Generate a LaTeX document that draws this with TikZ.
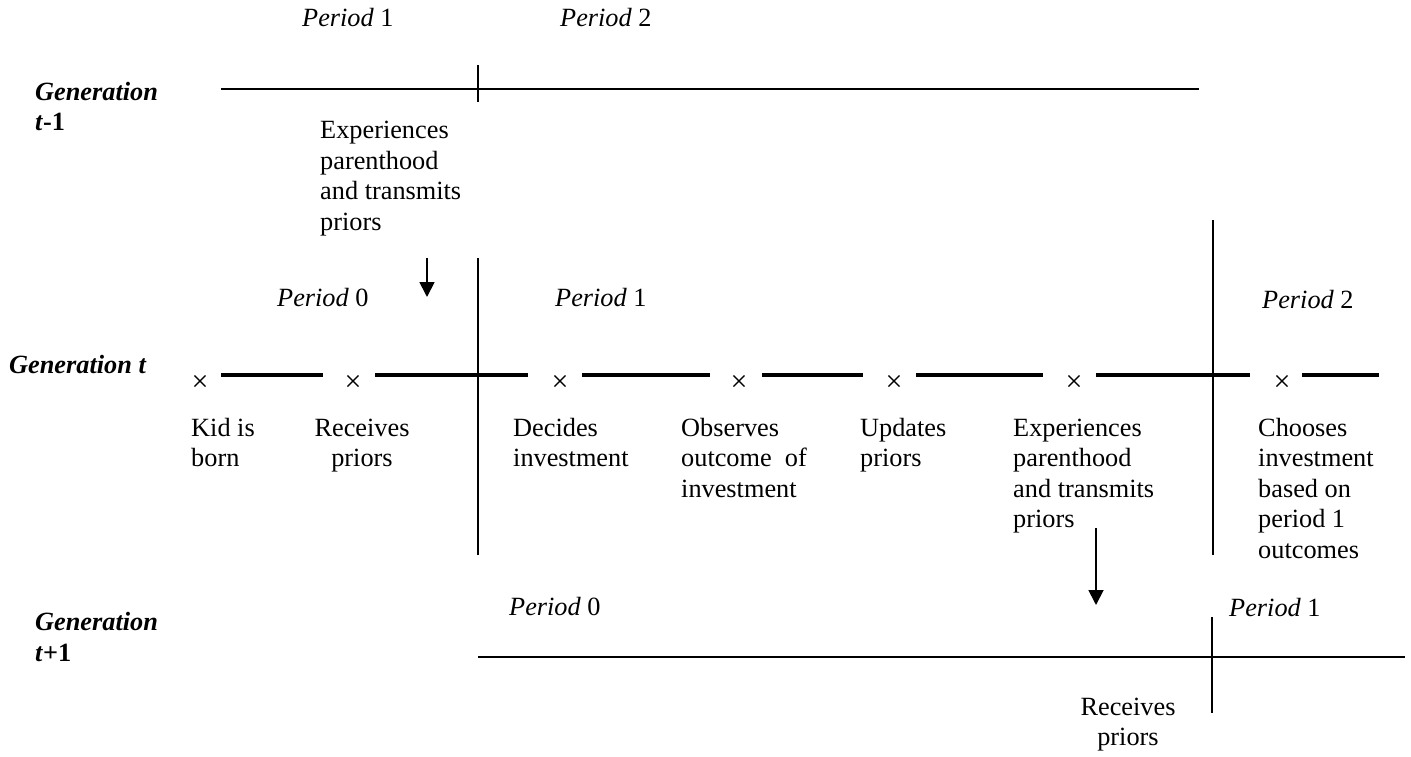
\documentclass[tikz,border=0pt]{standalone}
\usepackage{fontspec}
\setmainfont{Liberation Serif}
\usetikzlibrary{arrows.meta}
\begin{document}
\begin{tikzpicture}[x=1pt,y=-1pt,
  every node/.style={inner sep=0pt, font=\fontsize{26.3}{30.5}\selectfont},
  lbl/.style={anchor=base west, align=left},
  clbl/.style={anchor=base, align=center},
  gen/.style={anchor=base west, align=left, font=\fontsize{26.3}{30.5}\selectfont\bfseries\itshape},
  thinline/.style={line width=1.8pt},
  thickline/.style={line width=3.6pt},
  cross/.style={anchor=center, font=\fontsize{30}{30}\selectfont},
  arr/.style={line width=1.8pt,-{Triangle[length=15pt,width=15pt]}}]
\useasboundingbox (0,0) rectangle (1411,757);

% ---------- Generation t-1 ----------
\node[lbl] (p1top) at (302,27) {\textit{Period} 1};
\node[lbl] (p2top) at (560,27) {\textit{Period} 2};
\node[gen] (gtm1) at (35,131) {Generation\\\textit{t}\textup{-1}};
\coordinate (a1) at (221,89);
\coordinate (a2) at (1199,89);
\draw[thinline] (a1) -- (a2);
\coordinate (tk1) at (478,65);
\coordinate (tk2) at (478,102);
\draw[thinline] (tk1) -- (tk2);
\node[lbl] (exptop) at (320,230) {Experiences\\parenthood\\and transmits\\priors};
\coordinate (ar1s) at (427,258);
\coordinate (ar1e) at (427,297);
\draw[arr] (ar1s) -- (ar1e);

% ---------- Generation t ----------
\coordinate (v1a) at (478,258);
\coordinate (v1b) at (478,555);
\draw[thinline] (v1a) -- (v1b);
\coordinate (v2a) at (1213,220);
\coordinate (v2b) at (1213,555);
\draw[thinline] (v2a) -- (v2b);
\node[lbl] (p0t) at (277,306) {\textit{Period} 0};
\node[lbl] (p1t) at (555,306) {\textit{Period} 1};
\node[lbl] (p2t) at (1262,308) {\textit{Period} 2};
\node[gen] (gt) at (9,373) {Generation t};

\foreach \n/\xa/\xb in {s1/221/323, s2/375/528, s3/582/710, s4/762/863, s5/916/1043, s6/1096/1250, s7/1302/1379}{
  \coordinate (\n a) at (\xa,375);
  \coordinate (\n b) at (\xb,375);
  \draw[thickline] (\n a) -- (\n b);
}
\foreach \n/\x in {x1/200, x2/353, x3/560, x4/739, x5/894, x6/1074, x7/1282}{
  \node[cross] (\n) at (\x,383) {×};
}

\node[lbl] (kid) at (191,466.5) {Kid is\\born};
\node[clbl] (rec) at (362,466.5) {Receives\\priors};
\node[lbl] (dec) at (513,466.5) {Decides\\investment};
\node[lbl] (obs) at (681,497) {Observes\\outcome\ \ of\\investment};
\node[lbl] (upd) at (860,466.5) {Updates\\priors};
\node[lbl] (expt) at (1013,527.5) {Experiences\\parenthood\\and transmits\\priors};
\node[lbl] (cho) at (1258,558) {Chooses\\investment\\based on\\period 1\\outcomes};
\coordinate (ar2s) at (1096,528);
\coordinate (ar2e) at (1096,605);
\draw[arr] (ar2s) -- (ar2e);

% ---------- Generation t+1 ----------
\node[gen] (gtp1) at (35,661) {Generation\\\textit{t}\textup{+1}};
\node[lbl] (p0b) at (509,615) {\textit{Period} 0};
\node[lbl] (p1b) at (1229,616) {\textit{Period} 1};
\coordinate (b1) at (478,657);
\coordinate (b2) at (1405,657);
\draw[thinline] (b1) -- (b2);
\coordinate (v3a) at (1212,617);
\coordinate (v3b) at (1212,713);
\draw[thinline] (v3a) -- (v3b);
\node[clbl] (recb) at (1128,745.5) {Receives\\priors};
\end{tikzpicture}
\end{document}
